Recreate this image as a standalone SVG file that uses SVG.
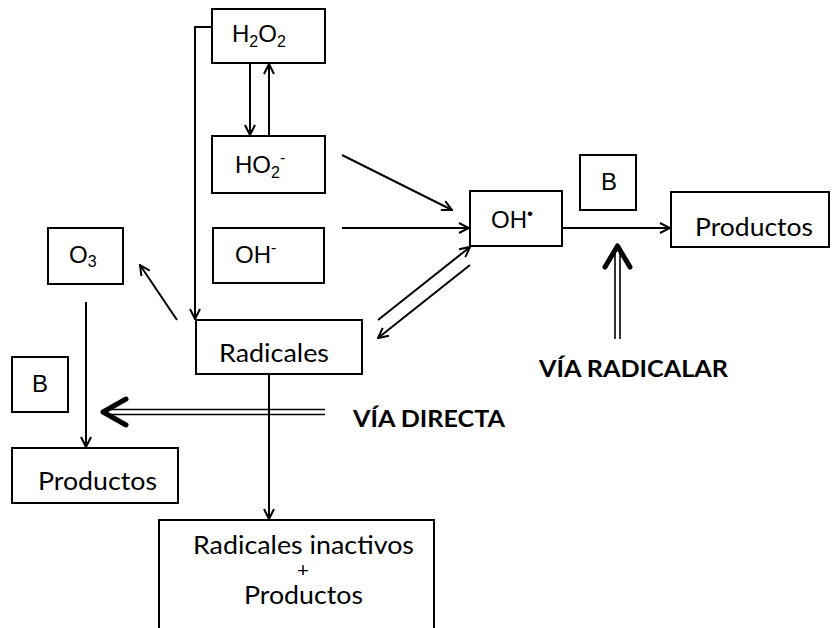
<svg xmlns="http://www.w3.org/2000/svg" width="833" height="628" viewBox="0 0 833 628">
<style>
.box{fill:#fff;stroke:#000;stroke-width:2}
.ln{fill:none;stroke:#000;stroke-width:2}
.dl{fill:none;stroke:#000;stroke-width:1.6}
.chev{fill:none;stroke:#000;stroke-width:5;stroke-linecap:round;stroke-linejoin:round}
.a{font-family:"Liberation Sans",Arial,sans-serif;font-size:24px;fill:#000}
.c{font-family:Lato,"Open Sans",sans-serif;font-size:25px;fill:#000}
.cb{font-family:Lato,"Open Sans",sans-serif;font-size:22px;font-weight:bold;fill:#000}
</style>
<defs>
<marker id="ah" markerWidth="12" markerHeight="12" refX="11" refY="6" orient="auto" markerUnits="userSpaceOnUse">
<path d="M1,1 L11,6 L1,11" fill="none" stroke="#000" stroke-width="2"/>
</marker>
</defs>
<rect width="833" height="628" fill="#fff"/>

<g id="connectors">
<polyline class="ln" points="212,27 195,27 195,319" marker-end="url(#ah)"/>
<line class="ln" x1="250" y1="63" x2="250" y2="135" marker-end="url(#ah)"/>
<line class="ln" x1="269" y1="136" x2="269" y2="64" marker-end="url(#ah)"/>
<line class="ln" x1="342" y1="155" x2="452" y2="210" marker-end="url(#ah)"/>
<line class="ln" x1="342" y1="228" x2="469" y2="228" marker-end="url(#ah)"/>
<line class="ln" x1="378" y1="320" x2="470" y2="247" marker-end="url(#ah)"/>
<line class="ln" x1="470" y1="265" x2="378" y2="338" marker-end="url(#ah)"/>
<line class="ln" x1="562" y1="228" x2="670" y2="228" marker-end="url(#ah)"/>
<line class="ln" x1="177" y1="320" x2="140" y2="265" marker-end="url(#ah)"/>
<line class="ln" x1="86" y1="302" x2="86" y2="447" marker-end="url(#ah)"/>
<line class="dl" x1="325" y1="409.5" x2="106" y2="409.5"/>
<line class="dl" x1="325" y1="414.5" x2="106" y2="414.5"/>
<polyline class="chev" points="126,399 103,412 126,425"/>
<line class="ln" x1="269" y1="374" x2="269" y2="519" marker-end="url(#ah)"/>
<line class="dl" x1="615" y1="339" x2="615" y2="250"/>
<line class="dl" x1="620" y1="339" x2="620" y2="250"/>
<polyline class="chev" points="605,267 617.5,246 630,267"/>
</g>

<g id="n-h2o2">
<rect class="box" x="212" y="9" width="113" height="54"/>
<text class="a" x="232" y="42">H<tspan font-size="16" dy="5">2</tspan><tspan dy="-5">O</tspan><tspan font-size="16" dy="5">2</tspan></text>
</g>
<g id="n-ho2">
<rect class="box" x="212" y="136" width="113" height="57"/>
<text class="a" x="235" y="173">HO<tspan font-size="16" dy="5">2</tspan><tspan font-size="16" dy="-15">-</tspan></text>
</g>
<g id="n-oh-">
<rect class="box" x="213" y="228" width="111" height="55"/>
<text class="a" x="235" y="263">OH<tspan font-size="16" dy="-10">-</tspan></text>
</g>
<g id="n-ohrad">
<rect class="box" x="470" y="191" width="92" height="55"/>
<text class="a" x="491" y="228">OH<tspan font-size="17" dy="-9">•</tspan></text>
</g>
<g id="n-b1">
<rect class="box" x="580" y="155" width="56" height="55"/>
<text class="a" x="601" y="190">B</text>
</g>
<g id="n-prod1">
<rect class="box" x="671" y="192" width="158" height="55"/>
<text class="c" x="695" y="236" textLength="118" lengthAdjust="spacingAndGlyphs">Productos</text>
</g>
<g id="n-o3">
<rect class="box" x="48" y="228" width="75" height="56"/>
<text class="a" x="69" y="263">O<tspan font-size="16" dy="4">3</tspan></text>
</g>
<g id="n-radicales">
<rect class="box" x="196" y="320" width="166" height="54"/>
<text class="c" x="219" y="362" textLength="110" lengthAdjust="spacingAndGlyphs">Radicales</text>
</g>
<g id="n-b2">
<rect class="box" x="12" y="357" width="56" height="55"/>
<text class="a" x="32" y="392">B</text>
</g>
<g id="n-prod2">
<rect class="box" x="12" y="448" width="166" height="55"/>
<text class="c" x="38" y="490" textLength="119" lengthAdjust="spacingAndGlyphs">Productos</text>
</g>
<g id="n-inactivos">
<rect class="box" x="159" y="520" width="275" height="120"/>
<text class="c"><tspan x="193" y="554" textLength="221" lengthAdjust="spacingAndGlyphs">Radicales inactivos</tspan><tspan x="297" y="577" font-size="20" textLength="12" lengthAdjust="spacingAndGlyphs">+</tspan><tspan x="244" y="604" textLength="119" lengthAdjust="spacingAndGlyphs">Productos</tspan></text>
</g>
<g id="labels">
<text class="cb" x="353" y="427" textLength="152" lengthAdjust="spacingAndGlyphs">VÍA DIRECTA</text>
<text class="cb" x="539" y="377" textLength="189" lengthAdjust="spacingAndGlyphs">VÍA RADICALAR</text>
</g>
</svg>
